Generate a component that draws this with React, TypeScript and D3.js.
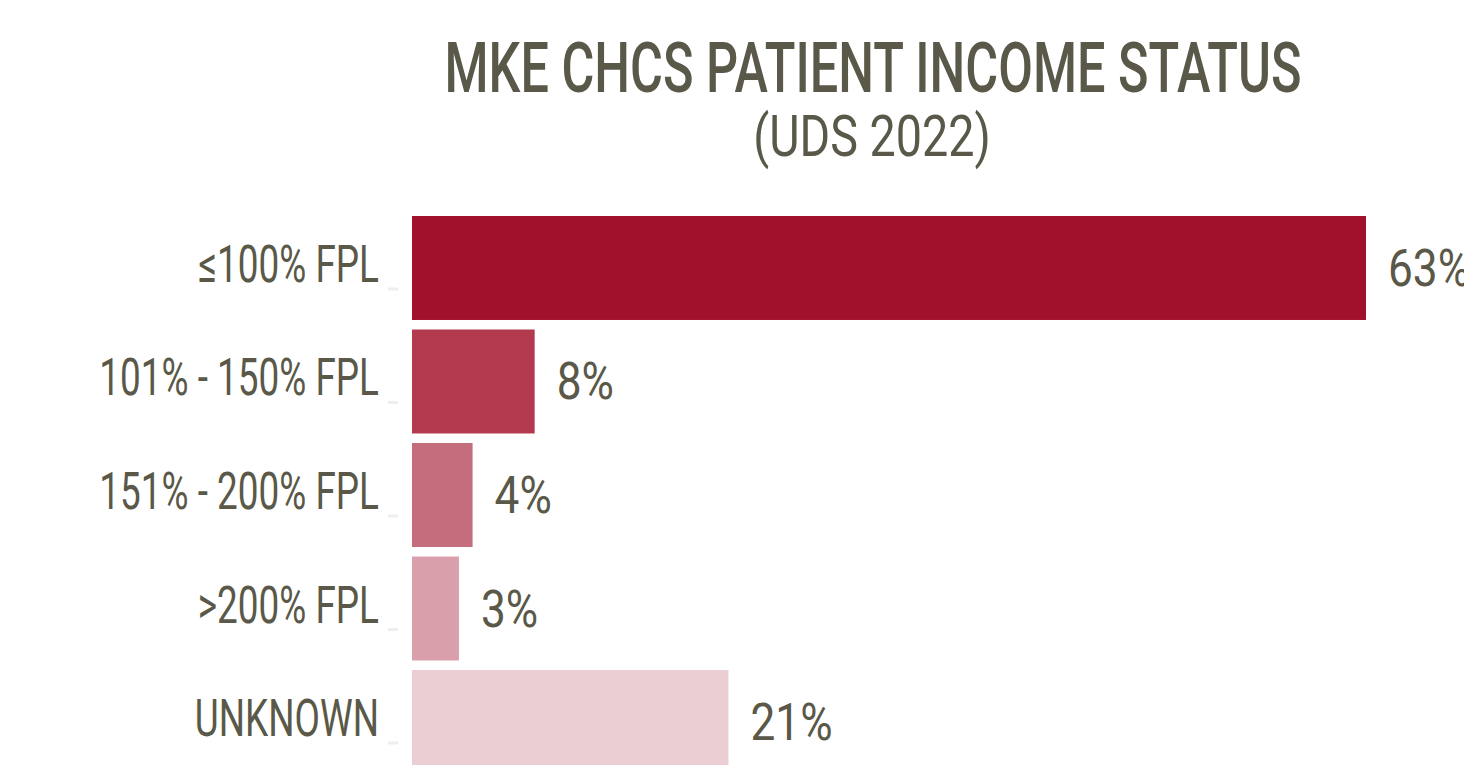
import * as d3 from "d3";

const categories = ["≤100% FPL", "101% - 150% FPL", "151% - 200% FPL", ">200% FPL", "UNKNOWN"];
const values = [63, 8.1, 4.0, 3.1, 20.9];
const valueLabels = ["63%", "8%", "4%", "3%", "21%"];
const colors = ["#A1112B", "#B3394E", "#C56D7D", "#D99FAA", "#EBCED4"];

const title = "MKE CHCS PATIENT INCOME STATUS";
const subtitle = "(UDS 2022)";

const W = 1464;
const H = 765;
const ink = "#5A5848";
const font = "Roboto, 'DejaVu Sans', sans-serif";
// horizontal squeeze per text kind, to mimic the condensed face
const sxTitle = 0.72;
const sxSub = 0.82;
const sxCat = 0.71;
const sxVal = 0.85;

export default function App() {
  const x = d3.scaleLinear().domain([0, 63]).range([412, 1366]);
  const y = d3.scaleBand<string>().domain(categories).range([216, 774]).paddingInner(0.084).paddingOuter(0);
  const bw = y.bandwidth();

  return (
    <svg
      width={W}
      height={H}
      style={{ position: "absolute", left: 0, top: 0, background: "#fff" }}
    >
      {/* title */}
      <text
        transform={`translate(${873},${92}) scale(${sxTitle},1)`}
        textAnchor="middle"
        fontFamily={font}
        fontSize={70}
        fontWeight={500}
        fill={ink}
      >
        {title}
      </text>
      <text
        transform={`translate(${872},${156}) scale(${sxSub},1)`}
        textAnchor="middle"
        fontFamily={font}
        fontSize={57}
        fill={ink}
      >
        {subtitle}
      </text>

      {categories.map((c, i) => {
        const top = y(c)!;
        const cy = top + bw / 2;
        const right = x(values[i]);
        return (
          <g key={c}>
            <rect x={x(0)} y={top} width={right - x(0)} height={bw} fill={colors[i]} />
            {/* faint tick */}
            <line x1={388} x2={398} y1={cy + 21} y2={cy + 21} stroke="#eeeeee" strokeWidth={3} />
            <text
              transform={`translate(${379},${cy + 14}) scale(${sxCat},1)`}
              textAnchor="end"
              fontFamily={font}
              fontSize={52}
              fill={ink}
            >
              {c}
            </text>
            <text
              transform={`translate(${right + 22},${cy + 18}) scale(${sxVal},1)`}
              textAnchor="start"
              fontFamily={font}
              fontSize={52}
              fill={ink}
            >
              {valueLabels[i]}
            </text>
          </g>
        );
      })}
    </svg>
  );
}
